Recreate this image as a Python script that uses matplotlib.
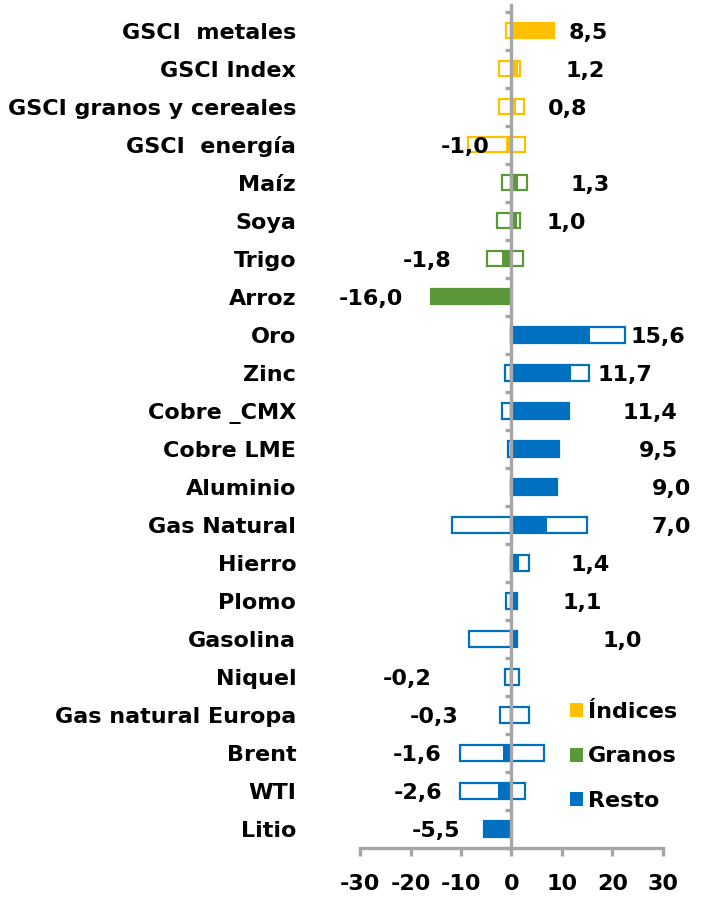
import matplotlib
matplotlib.use("Agg")
import matplotlib.pyplot as plt
from matplotlib.patches import Patch

plt.rcParams['font.family'] = ['DejaVu Sans']
plt.rcParams['font.weight'] = 'bold'
plt.rcParams['axes.unicode_minus'] = False

categories = ["GSCI  metales", "GSCI Index", "GSCI granos y cereales", "GSCI  energía",
              "Maíz", "Soya", "Trigo", "Arroz",
              "Oro", "Zinc", "Cobre _CMX", "Cobre LME", "Aluminio", "Gas Natural",
              "Hierro", "Plomo", "Gasolina", "Niquel", "Gas natural Europa",
              "Brent", "WTI", "Litio"]
values = [8.5, 1.2, 0.8, -1.0,
          1.3, 1.0, -1.8, -16.0,
          15.6, 11.7, 11.4, 9.5, 9.0, 7.0,
          1.4, 1.1, 1.0, -0.2, -0.3,
          -1.6, -2.6, -5.5]
range_min = [-1.0, -2.5, -2.4, -8.7,
             -1.8, -2.9, -4.9, -16.0,
             0.0, -1.3, -1.9, -0.6, 0.0, -11.7,
             0.0, -1.1, -8.4, -1.3, -2.3,
             -10.2, -10.2, -5.5]
range_max = [8.5, 1.7, 2.5, 2.6,
             3.0, 1.7, 2.3, 0.0,
             22.5, 15.4, 11.4, 9.5, 9.0, 15.0,
             3.5, 1.1, 1.0, 1.5, 3.5,
             6.4, 2.7, 0.0]
groups = ["Índices"] * 4 + ["Granos"] * 4 + ["Resto"] * 14
group_colors = {"Índices": "#FFC000", "Granos": "#5A983A", "Resto": "#0070C0"}
# manual label positions (x centre, data units), as in the source chart
label_x = [15.2, 14.5, 11.1, -9.1,
           15.6, 10.9, -16.8, -27.9,
           28.9, 22.4, 27.5, 29.1, 31.7, 31.7,
           15.6, 13.9, 22.0, -20.6, -15.4,
           -18.6, -18.6, -14.9]

fs = 16
fig = plt.figure(figsize=(7.05, 9.01), dpi=100)
ax = fig.add_axes([360 / 705, 53 / 901, 303 / 705, 843 / 901])

ypos = list(range(len(categories)))
colors = [group_colors[g] for g in groups]

# hollow range boxes
ax.barh(ypos, range_min, height=0.4, color="white", edgecolor=colors, linewidth=1.6, zorder=1)
ax.barh(ypos, range_max, height=0.4, color="white", edgecolor=colors, linewidth=1.6, zorder=1)
# filled values
ax.barh(ypos, values, height=0.4, color=colors, linewidth=0, zorder=2)

for y, v, lx in zip(ypos, values, label_x):
    ax.text(lx, y, f"{v:.1f}".replace(".", ","), ha="center", va="center_baseline",
            fontsize=fs, fontweight="bold", clip_on=False)

ax.set_xlim(-30, 30)
ax.set_ylim(21.47, -0.68)
ax.set_xticks([-30, -20, -10, 0, 10, 20, 30])
ax.set_yticks(ypos)
ax.set_yticklabels(categories)
ax.set_yticks([i - 0.5 for i in range(len(categories) + 1)], minor=True)

gray = "#A6A6A6"
for s in ["top", "right"]:
    ax.spines[s].set_visible(False)
ax.spines["left"].set_position(("data", 0))
ax.spines["left"].set_color(gray)
ax.spines["left"].set_linewidth(2.4)
ax.spines["bottom"].set_color(gray)
ax.spines["bottom"].set_linewidth(2.4)

ax.tick_params(axis="y", which="major", length=0, pad=155, labelsize=fs)
ax.tick_params(axis="y", which="minor", length=4, width=2.4, color=gray)
ax.tick_params(axis="x", length=6, width=2.4, color=gray, labelsize=fs, pad=13)
for t in ax.get_xticklabels() + ax.get_yticklabels():
    t.set_fontweight("bold")

handles = [Patch(facecolor=group_colors[g], edgecolor="none") for g in ["Índices", "Granos", "Resto"]]
fig.legend(handles, ["Índices", "Granos", "Resto"], loc="upper left",
           bbox_to_anchor=(570 / 705, 1 - 702 / 901), frameon=False,
           prop={"size": fs, "weight": "bold"}, handlelength=0.6, handleheight=0.6,
           handletextpad=0.2, labelspacing=1.1, borderpad=0, borderaxespad=0)

fig.savefig("out.png", dpi=100)
